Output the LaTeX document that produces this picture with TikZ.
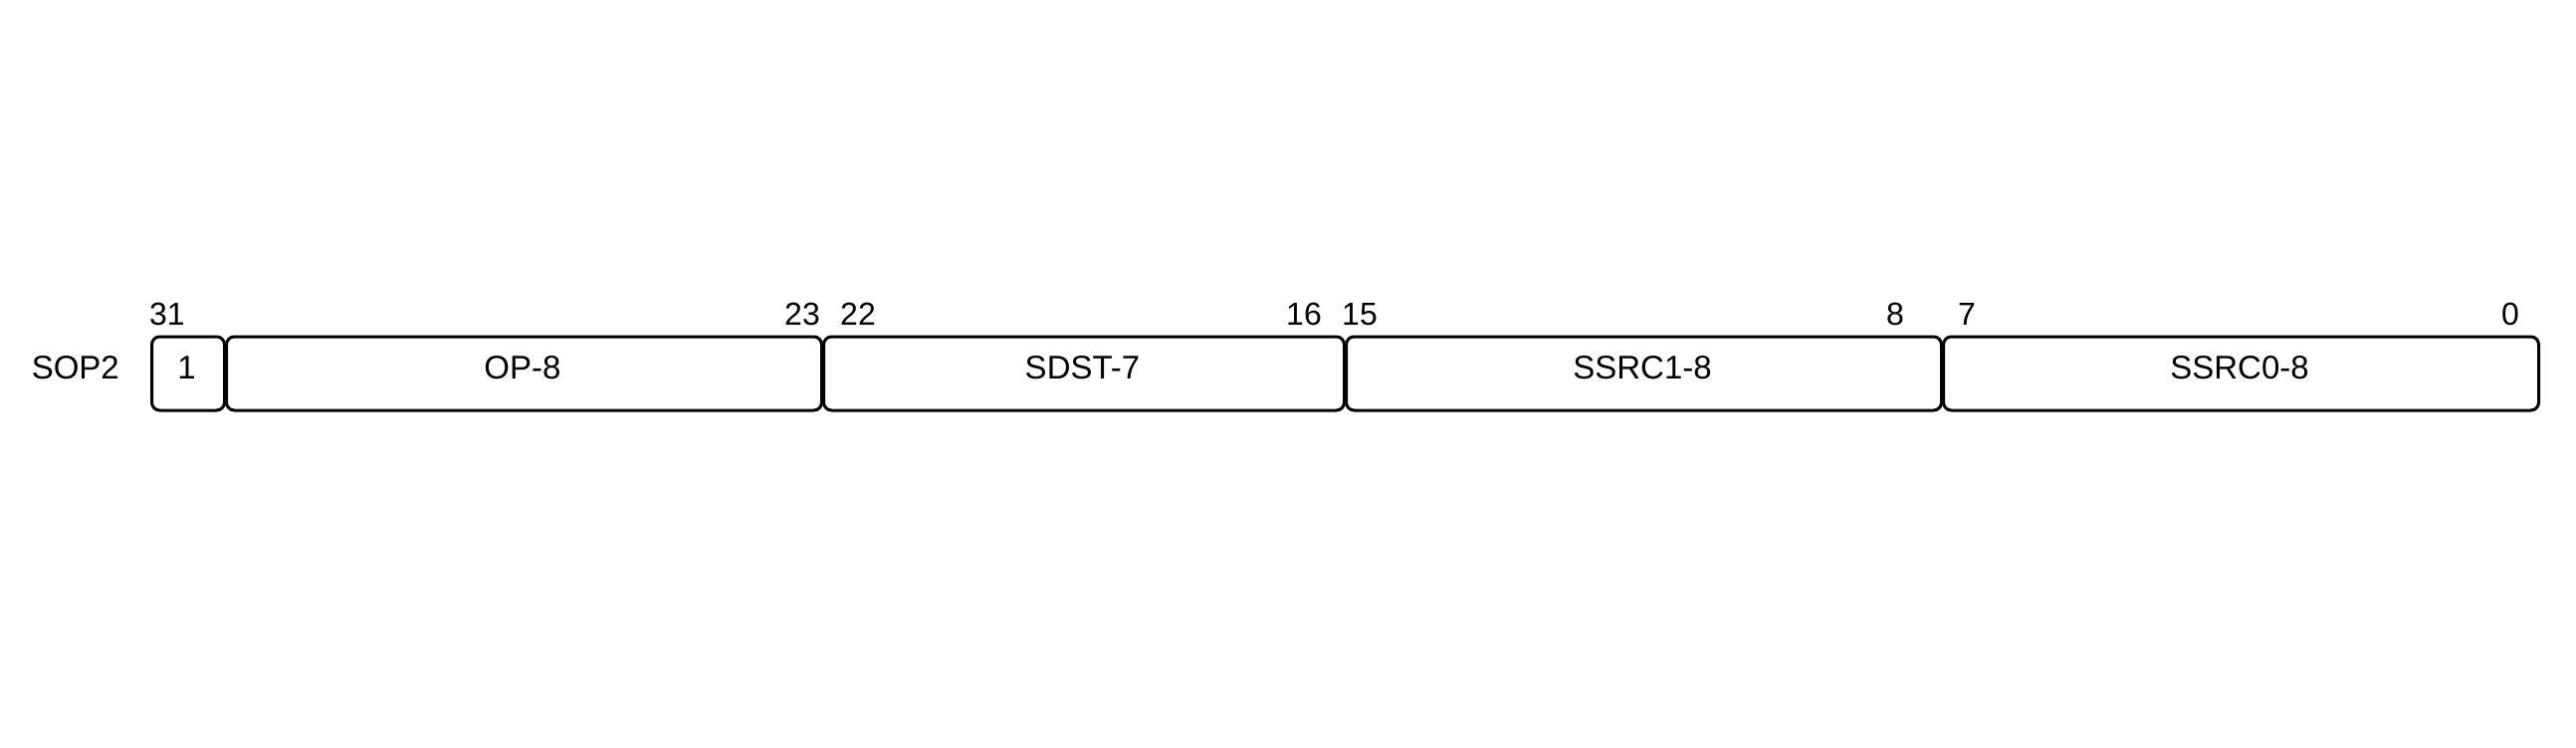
\documentclass[tikz,border=0pt]{standalone}
\usepackage{fontspec}
\setmainfont{Liberation Sans}
\begin{document}
\begin{tikzpicture}[x=1pt,y=-1pt,
  field/.style={draw=black, line width=3pt, rounded corners=8pt, minimum height=74pt, inner sep=0pt, anchor=west},
  ftext/.style={font=\fontsize{33}{33}\selectfont, anchor=base, inner sep=0pt},
  bitlbl/.style={font=\fontsize{32}{32}\selectfont, inner sep=0pt}]
\useasboundingbox (0,0) rectangle (2588,750);
% boxes (75pt per bit, 32 bits from x=150)
\node[field, minimum width=73pt]  (b1)    at (151,375) {};
\node[field, minimum width=598pt] (bop)   at (226,375) {};
\node[field, minimum width=523pt] (bsdst) at (826,375) {};
\node[field, minimum width=598pt] (bss1)  at (1351,375) {};
\node[field, minimum width=598pt] (bss0)  at (1951,375) {};
% field texts
\node[ftext] (t1)    at (187.5,380.5) {1};
\node[ftext] (top)   at (525,380.5) {OP-8};
\node[ftext] (tsdst) at (1087.5,380.5) {SDST-7};
\node[ftext] (tss1)  at (1650,380.5) {SSRC1-8};
\node[ftext] (tss0)  at (2250,380.5) {SSRC0-8};
% row name
\node[ftext, anchor=base east] (name) at (120,380.5) {SOP2};
% bit numbers
\node[bitlbl, anchor=base west] (l31) at (150,326.5) {31};
\node[bitlbl, anchor=base east] (l23) at (824,326.5) {23};
\node[bitlbl, anchor=base west] (l22) at (844,326.5) {22};
\node[bitlbl, anchor=base east] (l16) at (1328,326.5) {16};
\node[bitlbl, anchor=base west] (l15) at (1348,326.5) {15};
\node[bitlbl, anchor=base east] (l8)  at (1913,326.5) {8};
\node[bitlbl, anchor=base west] (l7)  at (1967,326.5) {7};
\node[bitlbl, anchor=base east] (l0)  at (2531,326.5) {0};
\end{tikzpicture}
\end{document}
